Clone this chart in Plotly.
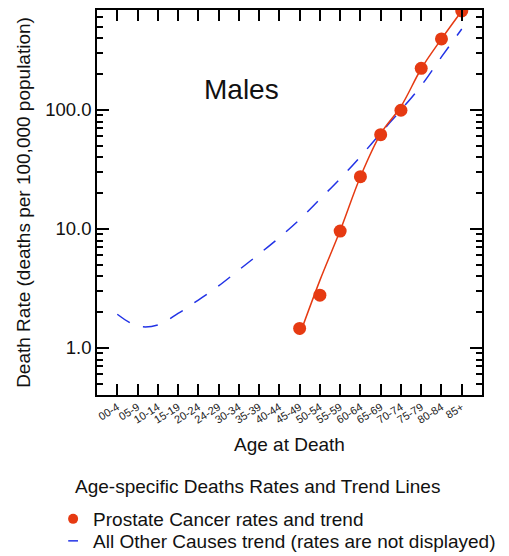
import plotly.graph_objects as go

age_groups = ["00-4", "05-9", "10-14", "15-19", "20-24", "24-29", "30-34", "35-39",
              "40-44", "45-49", "50-54", "55-59", "60-64", "65-69", "70-74", "75-79",
              "80-84", "85+"]
prostate_groups = ["45-49", "50-54", "55-59", "60-64", "65-69", "70-74", "75-79", "80-84", "85+"]
prostate_rates = [1.46, 2.78, 9.6, 27.5, 62.0, 99.5, 224.0, 395.0, 679.0]
prostate_trend = [1.29, 3.7, 9.7, 27.5, 63.0, 107.0, 222.0, 395.0, 679.0]
other_trend = [1.92, 1.53, 1.56, 1.95, 2.53, 3.32, 4.52, 6.17, 8.48, 12.0, 17.8,
               26.5, 40.6, 64.0, 100.0, 160.0, 279.0, 479.0]

y_tickvals = [1, 10, 100]
y_ticktext = ["1.0", "10.0", "100.0"]
y_minor = [0.5, 0.6, 0.7, 0.8, 0.9, 2, 3, 4, 5, 6, 7, 8, 9,
           20, 30, 40, 50, 60, 70, 80, 90, 200, 300, 400, 500, 600, 700]

RED = "#e63a12"
BLUE = "#2233e6"
FONT = "Liberation Sans, Arial, sans-serif"
PLOT_TOP, PLOT_BOTTOM = 10, 395
PH = PLOT_BOTTOM - PLOT_TOP


def py(pix):
    return (PLOT_BOTTOM - pix) / PH


fig = go.Figure()
fig.add_trace(go.Scatter(x=age_groups, y=other_trend, mode="lines",
                         line=dict(color=BLUE, width=1.5, dash="15px,14px", shape="spline"),
                         showlegend=False, hoverinfo="skip"))
fig.add_trace(go.Scatter(x=prostate_groups, y=prostate_trend, mode="lines",
                         line=dict(color=RED, width=1.5, shape="spline"),
                         showlegend=False, hoverinfo="skip"))
fig.add_trace(go.Scatter(x=prostate_groups, y=prostate_rates, mode="markers",
                         marker=dict(color=RED, size=13), showlegend=False))
# legend entries
fig.add_trace(go.Scatter(x=[None], y=[None], mode="markers",
                         marker=dict(color=RED, size=10),
                         name="Prostate Cancer rates and trend", legend="legend"))
fig.add_trace(go.Scatter(x=[None], y=[None], mode="markers",
                         marker=dict(symbol="line-ew", size=7, color=BLUE,
                                     line=dict(color=BLUE, width=1.5)),
                         name="All Other Causes trend (rates are not displayed)",
                         legend="legend2"))

legend_common = dict(xanchor="left", yanchor="middle",
                     font=dict(size=19, color="#111111"), bgcolor="rgba(0,0,0,0)")

fig.update_layout(
    width=509, height=556,
    margin=dict(l=97, r=27, t=PLOT_TOP, b=556 - PLOT_BOTTOM, autoexpand=False),
    plot_bgcolor="white", paper_bgcolor="white",
    font=dict(family=FONT, size=19, color="#111111"),
    legend=dict(x=-0.114, y=py(519), **legend_common),
    legend2=dict(x=-0.114, y=py(541), **legend_common),
    annotations=[
        dict(text="Males", x=0.376, y=py(90), xref="paper", yref="paper",
             xanchor="center", yanchor="middle", showarrow=False,
             font=dict(size=28, color="#111111")),
        dict(text="Age at Death", x=0.5, y=py(444), xref="paper", yref="paper",
             xanchor="center", yanchor="middle", showarrow=False,
             font=dict(size=19, color="#111111")),
        dict(text="Age-specific Deaths Rates and Trend Lines", x=(73 - 97) / 385,
             y=py(486), xref="paper", yref="paper",
             xanchor="left", yanchor="middle", showarrow=False,
             font=dict(size=19, color="#111111")),
    ],
)

fig.update_xaxes(
    type="category", categoryorder="array", categoryarray=age_groups,
    range=[-1, 18], tickangle=-32, tickfont=dict(size=11, color="#222222"),
    ticks="inside", ticklen=11, tickwidth=1.5, tickcolor="black",
    showline=True, linecolor="black", linewidth=1.5, mirror="ticks",
    showgrid=False, zeroline=False,
)
fig.update_yaxes(
    type="log", range=[-0.395, 2.84],
    tickmode="array", tickvals=y_tickvals, ticktext=y_ticktext,
    tickfont=dict(size=18.5, color="#111111"),
    ticks="inside", ticklen=12, tickwidth=1.5, tickcolor="black",
    showline=True, linecolor="black", linewidth=1.5, mirror="ticks",
    showgrid=False, zeroline=False,
    title=dict(text="Death Rate (deaths per 100,000 population)", font=dict(size=19), standoff=10),
    minor=dict(tickmode="array", tickvals=y_minor, ticks="inside", ticklen=6,
               tickwidth=1.5, tickcolor="black", showgrid=False),
)

fig.write_html("out.html")
